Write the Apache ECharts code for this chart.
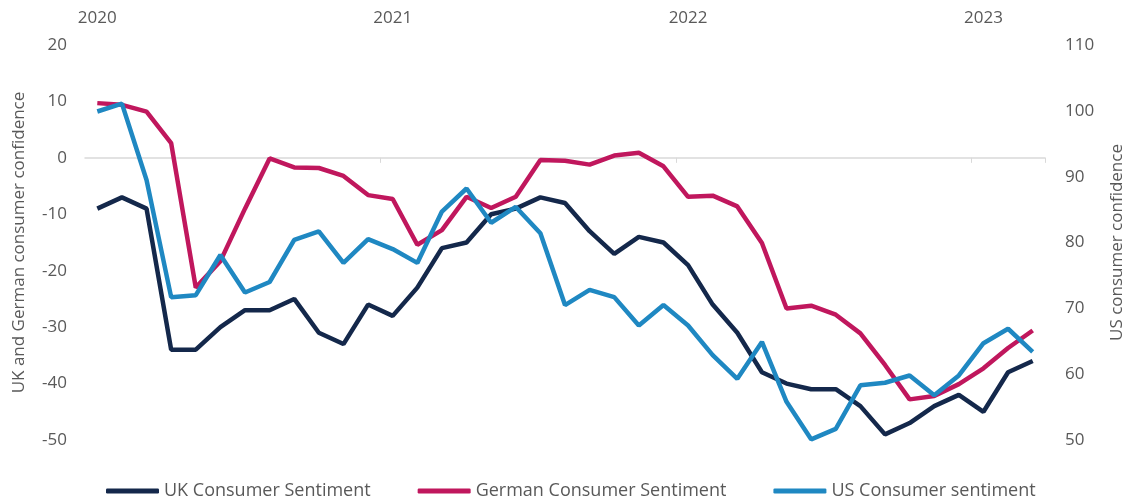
<!DOCTYPE html>
<html>
<head>
<meta charset="utf-8">
<script src="https://cdn.jsdelivr.net/npm/echarts@6/dist/echarts.min.js"></script>
<style>
html,body{margin:0;padding:0;background:#fff;}
#chart{width:1125px;height:501px;}
</style>
</head>
<body>
<div id="chart"></div>
<script>
const months = [
  '2020-01','2020-02','2020-03','2020-04','2020-05','2020-06','2020-07','2020-08','2020-09','2020-10','2020-11','2020-12',
  '2021-01','2021-02','2021-03','2021-04','2021-05','2021-06','2021-07','2021-08','2021-09','2021-10','2021-11','2021-12',
  '2022-01','2022-02','2022-03','2022-04','2022-05','2022-06','2022-07','2022-08','2022-09','2022-10','2022-11','2022-12',
  '2023-01','2023-02','2023-03'
];
const ukSentiment = [
  -9, -7, -9, -34, -34, -30, -27, -27, -25, -31, -33, -26,
  -28, -23, -16, -15, -10, -9, -7, -8, -13, -17, -14, -15,
  -19, -26, -31, -38, -40, -41, -41, -44, -49, -47, -44, -42,
  -45, -38, -36
];
const germanSentiment = [
  9.7, 9.4, 8.2, 2.6, -23, -18.3, -9, -0.1, -1.7, -1.8, -3.2, -6.6,
  -7.3, -15.4, -12.8, -6.9, -8.9, -6.9, -0.4, -0.5, -1.2, 0.4, 0.9, -1.5,
  -6.9, -6.7, -8.6, -15.1, -26.7, -26.2, -27.8, -31.1, -36.7, -42.8, -42.2, -40.1,
  -37.3, -33.7, -30.6
];
const usSentiment = [
  99.9, 101.1, 89.5, 71.7, 72.0, 78.1, 72.4, 74.0, 80.4, 81.7, 76.9, 80.5,
  79.0, 76.9, 84.7, 88.2, 83.0, 85.4, 81.4, 70.5, 72.8, 71.7, 67.4, 70.5,
  67.4, 62.9, 59.3, 64.9, 55.8, 50.1, 51.7, 58.3, 58.7, 59.8, 56.8, 59.8,
  64.7, 66.9, 63.4
];
const seriesNames = ['UK Consumer Sentiment', 'German Consumer Sentiment', 'US Consumer sentiment'];
const leftAxisName = 'UK and German consumer confidence';
const rightAxisName = 'US consumer confidence';

const FONT = '"Open Sans", sans-serif';
const TXT = '#595959';
const colors = ['#14284b', '#c0175d', '#1f88c2'];

const chart = echarts.init(document.getElementById('chart'), null, {renderer: 'canvas'});
chart.setOption({
  animation: false,
  backgroundColor: '#ffffff',
  textStyle: {fontFamily: FONT},
  grid: {left: 85, right: 80, top: 45, bottom: 61, containLabel: false, outerBoundsMode: 'none'},
  legend: {
    top: 477,
    left: 101,
    icon: 'roundRect',
    itemWidth: 53,
    itemHeight: 5,
    itemGap: 47,
    textStyle: {fontFamily: FONT, fontSize: 18, color: TXT},
    data: seriesNames
  },
  xAxis: [
    {
      type: 'category',
      data: months,
      position: 'top',
      boundaryGap: true,
      axisLine: {show: false},
      axisTick: {show: false},
      splitLine: {show: false},
      axisLabel: {
        interval: function (i) { return i % 12 === 0; },
        formatter: function (v) { return v.slice(0, 4); },
        fontFamily: FONT, fontSize: 17, color: TXT, margin: 18
      }
    },
    {
      type: 'category',
      data: months,
      position: 'bottom',
      boundaryGap: true,
      axisLine: {show: true, onZero: true, onZeroAxisIndex: 0, lineStyle: {color: '#d9d9d9', width: 1.5}},
      axisTick: {show: true, interval: function (i) { return i % 12 === 0 && i > 0; }, length: 5, lineStyle: {color: '#d9d9d9'}},
      axisLabel: {show: false},
      splitLine: {show: false}
    }
  ],
  yAxis: [
    {
      type: 'value',
      min: -50, max: 20, interval: 10,
      position: 'left',
      axisLine: {show: false},
      axisTick: {show: false},
      splitLine: {show: false},
      axisLabel: {fontFamily: FONT, fontSize: 17, color: TXT, margin: 18},
      name: leftAxisName,
      nameLocation: 'middle',
      nameRotate: 90,
      nameGap: 57,
      nameTextStyle: {fontFamily: FONT, fontSize: 17, color: TXT}
    },
    {
      type: 'value',
      min: 50, max: 110, interval: 10,
      position: 'right',
      axisLine: {show: false},
      axisTick: {show: false},
      splitLine: {show: false},
      axisLabel: {fontFamily: FONT, fontSize: 17, color: TXT, margin: 20},
      name: rightAxisName,
      nameLocation: 'middle',
      nameRotate: 90,
      nameGap: 64,
      nameTextStyle: {fontFamily: FONT, fontSize: 17, color: TXT}
    }
  ],
  series: [
    {name: seriesNames[0], type: 'line', xAxisIndex: 0, yAxisIndex: 0, data: ukSentiment, symbol: 'none',
     lineStyle: {color: colors[0], width: 4.5}, itemStyle: {color: colors[0]}, z: 3},
    {name: seriesNames[1], type: 'line', xAxisIndex: 0, yAxisIndex: 0, data: germanSentiment, symbol: 'none',
     lineStyle: {color: colors[1], width: 4.5}, itemStyle: {color: colors[1]}, z: 2},
    {name: seriesNames[2], type: 'line', xAxisIndex: 0, yAxisIndex: 1, data: usSentiment, symbol: 'none',
     lineStyle: {color: colors[2], width: 4.5}, itemStyle: {color: colors[2]}, z: 4}
  ]
});
</script>
</body>
</html>
